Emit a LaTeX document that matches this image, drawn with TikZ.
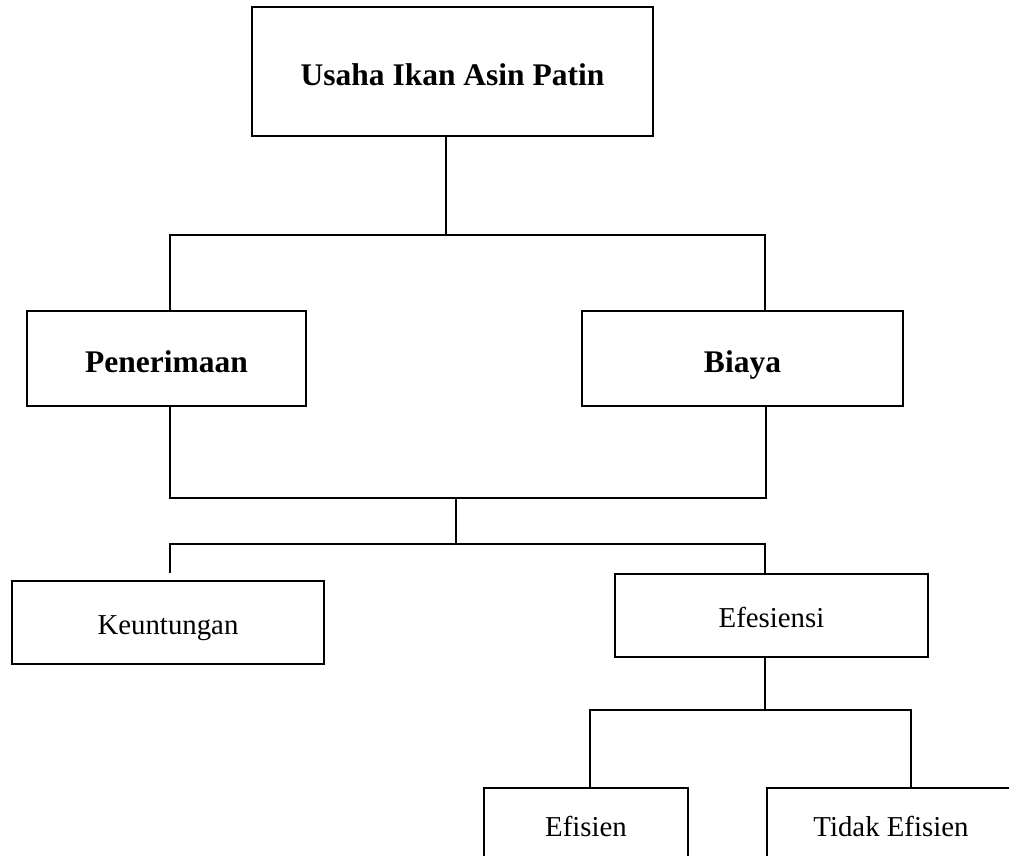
\documentclass[tikz,border=0pt]{standalone}
\usepackage{fontspec}
\setmainfont{Liberation Serif}
\usepackage{tikz}

\tikzset{
  box/.style={draw, line width=1.3pt, inner sep=0pt, anchor=center},
  bigbox/.style={box, font=\bfseries\fontsize{22.4}{27}\selectfont,
    text height=22pt, text depth=2.8pt},
  smallbox/.style={box, font=\fontsize{20.5}{25}\selectfont,
    text height=20pt, text depth=3.6pt},
  link/.style={line width=1.2pt}
}

\begin{document}
\begin{tikzpicture}[x=0.025cm, y=-0.025cm]
  \useasboundingbox (0,0) rectangle (1009,856);
  \clip (0,0) rectangle (1009,856);

  % boxes
  \node (usaha) [bigbox, minimum width=401*0.025cm, minimum height=129*0.025cm]
    at (452.5,71.5) {Usaha Ikan Asin Patin};
  \node (pen) [bigbox, minimum width=279*0.025cm, minimum height=95*0.025cm]
    at (166.5,358.5) {Penerimaan};
  \node (biaya) [bigbox, minimum width=321*0.025cm, minimum height=95*0.025cm]
    at (742.5,358.5) {Biaya};
  \node (untung) [smallbox, minimum width=312*0.025cm, minimum height=83*0.025cm]
    at (168,622.5) {Keuntungan};
  \node (efs) [smallbox, minimum width=313*0.025cm, minimum height=83*0.025cm]
    at (771.5,615.5) {Efesiensi};
  \node (efn) [smallbox, minimum width=204*0.025cm, minimum height=74*0.025cm]
    at (586,825) {Efisien};
  \node (tdk) [smallbox, minimum width=248*0.025cm, minimum height=74*0.025cm]
    at (891,825) {Tidak Efisien};

  % junctions
  \coordinate (j1) at (446,235);
  \coordinate (a1) at (170,235);
  \coordinate (a2) at (765,235);
  \coordinate (b1) at (170,498);
  \coordinate (b2) at (766,498);
  \coordinate (j2) at (456,498);
  \coordinate (c1) at (170,544);
  \coordinate (c2) at (765,544);
  \coordinate (k1) at (170,573);
  \coordinate (j3) at (765,710);
  \coordinate (d1) at (590,710);
  \coordinate (d2) at (911,710);

  % connectors
  \draw[link] (usaha.south -| j1) -- (j1);
  \draw[link] (pen.north -| a1) -- (a1) -- (a2) -- (biaya.north -| a2);
  \draw[link] (pen.south -| b1) -- (b1) -- (b2) -- (biaya.south -| b2);
  \draw[link] (j2) -- (j2 |- c1);
  \draw[link] (k1) -- (c1) -- (c2) -- (efs.north -| c2);
  \draw[link] (efs.south -| j3) -- (j3);
  \draw[link] (efn.north -| d1) -- (d1) -- (d2) -- (tdk.north -| d2);
\end{tikzpicture}
\end{document}
